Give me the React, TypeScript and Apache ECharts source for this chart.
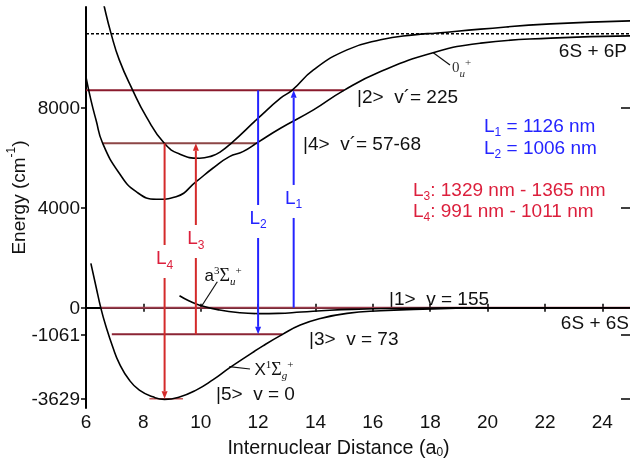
import React, { useEffect, useRef } from "react";
import * as echarts from "echarts";

// ---- data (R in bohr, E in cm^-1) ----
const xTicks = [6, 8, 10, 12, 14, 16, 18, 20, 22, 24];
const yTicks = [-3629, -1061, 0, 4000, 8000];

const curveUpper: [number, number][] = [
  [6.55, 12500], [6.64, 12000], [6.87, 10957], [7.16, 9890], [7.63, 8674], [8.1, 7627],
  [8.73, 6560], [9.26, 6137], [9.96, 5965], [10.4, 6060], [10.66, 6200], [11.06, 6560],
  [12.0, 7563], [12.78, 8361], [13.18, 8674], [13.93, 9491], [15.1, 10290], [16.27, 10690],
  [17.43, 10889], [18.25, 10965], [19.76, 11117], [22.2, 11328], [25, 11448],
];
const curve0u: [number, number][] = [
  [6.0, 9200], [6.17, 8293], [6.35, 7490], [6.58, 6565], [7.16, 5366], [7.75, 4632],
  [8.45, 4328], [9.14, 4432], [9.84, 5031], [10.42, 5566], [11.0, 6030], [11.47, 6229],
  [11.99, 6600], [12.78, 7163], [13.93, 7894], [14.99, 8674], [16.27, 9424], [18.13, 10182],
  [19.76, 10557], [22.2, 10757], [25, 10850],
];
const curveX: [number, number][] = [
  [6.17, 1773], [6.35, 839], [6.52, -24], [6.7, -759], [6.93, -1557], [7.16, -2220],
  [7.51, -2887], [7.86, -3286], [8.33, -3554], [8.74, -3655], [9.26, -3560], [9.84, -3286],
  [10.42, -2880], [11.0, -2400], [11.59, -1950], [12.17, -1520], [12.85, -1061], [13.47, -691],
  [14.17, -425], [15.1, -225], [16.27, -119], [17.43, -66], [19.76, -12], [22, -3], [25, 0],
];
const curveA3: [number, number][] = [
  [9.26, 480], [9.6, 270], [9.96, 100], [10.66, -92], [11.36, -199], [12.06, -235],
  [12.7, -225], [13.5, -170], [14.5, -100], [15.5, -58], [16.6, -30], [18, -12], [20, -4], [25, 0],
];
const asymptote6P = 10930;

const levelEnergy = [8674, 6560, 0, -1061, -3629];
const levelFrom = [6, 6.58, 6.52, 6.9, 8.21];
const levelTo = [14.99, 11.99, 25, 12.85, 9.38];

const arrowNames = ["1", "2", "3", "4"];
const arrowX = [13.24, 12.0, 9.83, 8.74];
const arrowFrom = [0, 8674, -1061, 6560];
const arrowTo = [8674, -1061, 6560, -3629];
const arrowLabelE = [4241, 3442, 2643, 1845];

// ---- styles ----
const SANS = "'Liberation Sans', Arial, Helvetica, sans-serif";
const SERIF = "'Liberation Serif', 'DejaVu Serif', serif";
const FS = 19;
const levelColors = ["#8a1a2c", "#8d4646", "#9c3c4c", "#8b2535", "#c45a5a"];
const BLUE = "#2424ff";
const RED = "#d42a2a";
const RED_TXT = "#dc1f3c";
const arrowColors = [BLUE, BLUE, RED, RED];
const arrowTextColors = [BLUE, BLUE, RED_TXT, RED_TXT];

const richFor = (color: string) => ({
  b: { fontSize: FS, lineHeight: 26, fontFamily: SANS, fill: color, color },
  s: { fontSize: 12, lineHeight: 12, verticalAlign: "bottom", fontFamily: SANS, fill: color, color },
  p: { fontSize: 12, lineHeight: 12, verticalAlign: "top", fontFamily: SANS, fill: color, color },
});

const richTerm = (color: string) => ({
  a: { fontSize: 17, lineHeight: 22, fontFamily: SANS, fill: color },
  S: { fontSize: 18, lineHeight: 22, fontFamily: SERIF, fill: color },
  z: { fontSize: 15, lineHeight: 22, fontFamily: SERIF, fill: color },
  p: { fontSize: 11, lineHeight: 11, verticalAlign: "top", fontFamily: SERIF, fill: color },
  s: { fontSize: 11, lineHeight: 11, verticalAlign: "bottom", fontFamily: SERIF, fontStyle: "italic", fill: color },
});

function txt(text: string, x: number, y: number, color = "#111", align = "left") {
  return {
    type: "text",
    x,
    y,
    style: {
      text,
      rich: richFor(color),
      fill: color,
      fontSize: FS,
      fontFamily: SANS,
      align,
      verticalAlign: "middle",
    },
  };
}
function term(text: string, x: number, y: number, color = "#111") {
  return {
    type: "text",
    x,
    y,
    style: { text, rich: richTerm(color), fill: color, fontSize: 17, fontFamily: SANS, align: "left", verticalAlign: "middle" },
  };
}
function seg(x1: number, y1: number, x2: number, y2: number) {
  return { type: "line", shape: { x1, y1, x2, y2 }, style: { stroke: "#111", lineWidth: 1.2 } };
}

export default function App() {
  const ref = useRef<HTMLDivElement>(null);
  useEffect(() => {
    if (!ref.current) return;
    const chart = echarts.init(ref.current, null, { renderer: "svg" });

    const curveStyle = { color: "#000", width: 1.6 };
    const curveSeries = [curveUpper, curve0u, curveX, curveA3].map((d, i) => ({
      type: "line",
      name: ["upper", "0u+", "X", "a3"][i],
      data: d,
      symbol: "none",
      smooth: 0.5,
      lineStyle: curveStyle,
      z: 3,
    }));

    const levelSeries = levelEnergy.map((e, i) => ({
      type: "line",
      name: "level" + i,
      data: [[levelFrom[i], e], [levelTo[i], e]],
      symbol: "none",
      lineStyle: { color: levelColors[i], width: i === 4 ? 1.5 : 2 },
      z: 2,
    }));

    const option: any = {
      animation: false,
      grid: { left: 86, top: 7, width: 545, height: 401, containLabel: false, outerBoundsMode: "none" },
      xAxis: [
        {
          type: "value",
          min: 6,
          max: 25,
          position: "bottom",
          name: "Internuclear Distance (a{s|0})",
          nameLocation: "middle",
          nameGap: 28,
          nameTextStyle: {
            fontSize: 19.7,
            fontFamily: SANS,
            color: "#111",
            lineHeight: 22,
            padding: [0, 40, 0, 0],
            rich: {
              s: { fontSize: 12, lineHeight: 10, verticalAlign: "bottom", fontFamily: SANS, color: "#111" },
            },
          },
          axisLine: { show: true, lineStyle: { color: "#000", width: 2 } },
          axisTick: { show: true, inside: true, length: 4, customValues: xTicks, lineStyle: { color: "#000", width: 1.5 } },
          axisLabel: { show: true, customValues: xTicks, margin: 4, fontSize: FS, fontFamily: SANS, color: "#111", formatter: (v: number) => String(v) },
          splitLine: { show: false },
        },
        {
          type: "value",
          min: 6,
          max: 25,
          position: "top",
          axisLine: { show: true, lineStyle: { color: "#000", width: 2 } },
          axisTick: { show: true, inside: true, length: 4, customValues: xTicks, lineStyle: { color: "#000", width: 1.5 } },
          axisLabel: { show: false },
          splitLine: { show: false },
        },
      ],
      yAxis: [
        {
          type: "value",
          min: -4000,
          max: 12000,
          position: "left",
          name: "Energy (cm{p|-1})",
          nameLocation: "middle",
          nameGap: 55,
          nameMoveOverlap: false,
          nameTextStyle: {
            fontSize: FS,
            fontFamily: SANS,
            color: "#111",
            lineHeight: 26,
            padding: [0, 0, 0, 20],
            rich: {
              p: { fontSize: 12, lineHeight: 12, verticalAlign: "top", fontFamily: SANS, color: "#111" },
            },
          },
          axisLine: { show: true, lineStyle: { color: "#000", width: 2 } },
          axisTick: { show: true, inside: false, length: 5, customValues: yTicks, lineStyle: { color: "#000", width: 1.5 } },
          axisLabel: { show: true, customValues: yTicks, margin: 6, fontSize: FS, fontFamily: SANS, color: "#111", formatter: (v: number) => String(v) },
          splitLine: { show: false },
        },
        {
          type: "value",
          min: -4000,
          max: 12000,
          position: "right",
          axisLine: { show: true, lineStyle: { color: "#000", width: 2 } },
          axisTick: { show: true, inside: true, length: 10, customValues: yTicks, lineStyle: { color: "#000", width: 1.5 } },
          axisLabel: { show: false },
          splitLine: { show: false },
        },
      ],
      series: [
        {
          type: "line",
          name: "6S+6P",
          data: [[6, asymptote6P], [25, asymptote6P]],
          symbol: "none",
          lineStyle: { color: "#000", width: 1.5, type: [3, 2] },
          z: 1,
        },
        ...levelSeries,
        ...curveSeries,
        {
          type: "custom",
          name: "transitions",
          coordinateSystem: "cartesian2d",
          encode: { x: 0, y: [1, 2] },
          data: arrowX.map((x, i) => [x, arrowFrom[i], arrowTo[i], arrowLabelE[i]]),
          z: 4,
          renderItem: (params: any, api: any) => {
            const i = params.dataIndex;
            const p0 = api.coord([api.value(0), api.value(1)]);
            const p1 = api.coord([api.value(0), api.value(2)]);
            const pg = api.coord([api.value(0), api.value(3)]);
            const dir = p1[1] > p0[1] ? 1 : -1;
            const gapHalf = 16.5;
            const headLen = 7.5;
            const headHalf = 3;
            const color = arrowColors[i];
            const gA = pg[1] - dir * gapHalf;
            const gB = pg[1] + dir * gapHalf;
            const baseY = p1[1] - dir * headLen;
            const x = p0[0];
            return {
              type: "group",
              children: [
                { type: "line", shape: { x1: x, y1: p0[1], x2: x, y2: gA }, style: { stroke: color, lineWidth: 2 } },
                { type: "line", shape: { x1: x, y1: gB, x2: x, y2: baseY }, style: { stroke: color, lineWidth: 2 } },
                {
                  type: "polygon",
                  shape: { points: [[x, p1[1]], [x - headHalf, baseY], [x + headHalf, baseY]] },
                  style: { fill: color },
                },
                {
                  type: "text",
                  x: x,
                  y: pg[1] - 4,
                  style: {
                    text: `{b|L}{s|${arrowNames[i]}}`,
                    rich: richFor(arrowTextColors[i]),
                    fill: arrowTextColors[i],
                    align: "center",
                    verticalAlign: "middle",
                  },
                },
              ],
            };
          },
        },
      ],
      graphic: [
        txt("{b|6S + 6P}", 627, 50, "#111", "right"),
        txt("{b||2>  v´= 225}", 357, 96),
        txt("{b||4>  v´= 57-68}", 303, 143),
        txt("{b|L}{s|1}{b| = 1126 nm}", 484, 125, BLUE),
        txt("{b|L}{s|2}{b| = 1006 nm}", 484, 147, BLUE),
        txt("{b|L}{s|3}{b|: 1329 nm - 1365 nm}", 413, 189, RED_TXT),
        txt("{b|L}{s|4}{b|: 991 nm - 1011 nm}", 413, 210, RED_TXT),
        txt("{b||1>  v = 155}", 389, 298),
        txt("{b|6S + 6S}", 629, 322, "#111", "right"),
        txt("{b||3>  v = 73}", 309, 338),
        txt("{b||5>  v = 0}", 216, 393),
        // 0u+
        seg(433.3, 52.7, 450, 65),
        term("{z|0}{s|u}{p|+}", 452, 67, "#333"),
        // a3Σu+
        seg(201.7, 306, 217.3, 281.7),
        term("{a|a}{p|3}{S|Σ}{s|u}{p|+}", 204.5, 275),
        // X1Σg+
        seg(229.3, 366.7, 250, 369),
        term("{a|X}{p|1}{S|Σ}{s|g}{p|+}", 254.5, 369),
      ],
    };

    chart.setOption(option);
    return () => chart.dispose();
  }, []);

  return <div ref={ref} style={{ position: "fixed", left: 0, top: 0, width: 630, height: 460 }} />;
}
